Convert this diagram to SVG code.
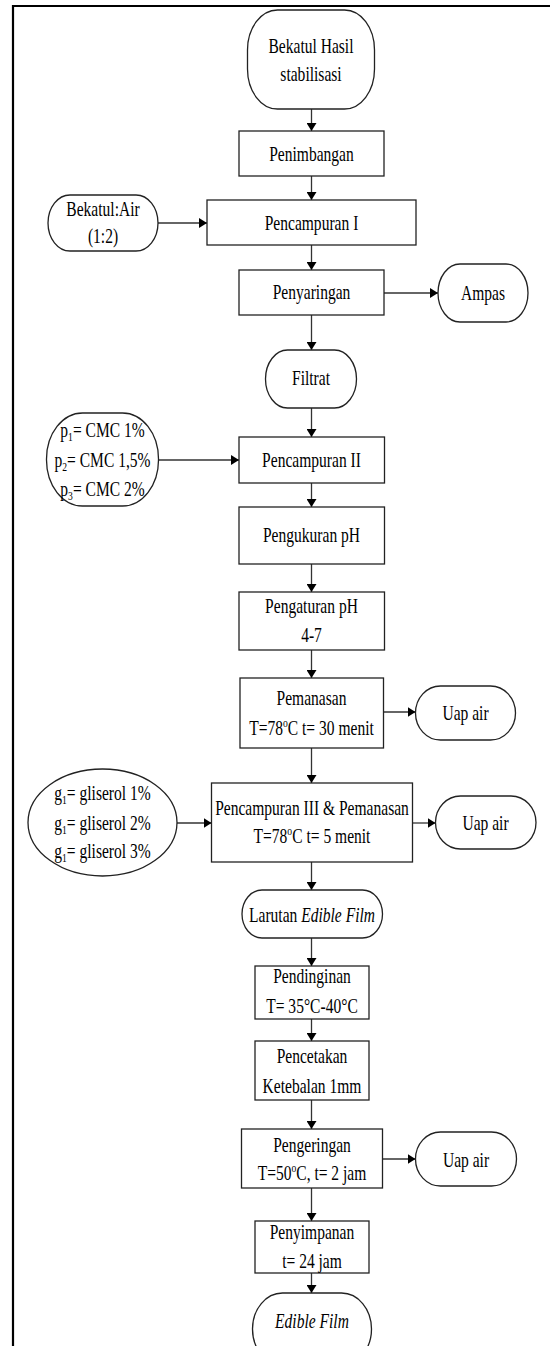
<svg xmlns="http://www.w3.org/2000/svg" width="550" height="1346" viewBox="0 0 550 1346">
<defs>
<marker id="ah" markerWidth="8" markerHeight="10" refX="8" refY="5" orient="auto" markerUnits="userSpaceOnUse">
<path d="M0,0 L8,5 L0,10 Z" fill="#000"/>
</marker>
<style>
.box{fill:#fff;stroke:#222;stroke-width:1.3}
.con{stroke:#333;stroke-width:1.3;fill:none}
.t{font-family:"Liberation Serif","Times New Roman",serif;font-size:21px;fill:#000;text-anchor:middle}
.i{font-style:italic}
.frame{stroke:#000;stroke-width:2.2;fill:none}
</style>
</defs>
<rect width="550" height="1346" fill="#fff"/>
<g id="frame">
<line class="frame" x1="12" y1="6" x2="550" y2="6"/>
<line class="frame" x1="13" y1="5" x2="13" y2="1346"/>
</g>
<g id="connectors">
<line class="con" x1="311.5" y1="109" x2="311.5" y2="131" marker-end="url(#ah)"/>
<line class="con" x1="311.5" y1="176" x2="311.5" y2="200" marker-end="url(#ah)"/>
<line class="con" x1="158" y1="223" x2="207" y2="223" marker-end="url(#ah)"/>
<line class="con" x1="311.5" y1="245" x2="311.5" y2="270" marker-end="url(#ah)"/>
<line class="con" x1="384" y1="293" x2="438" y2="293" marker-end="url(#ah)"/>
<line class="con" x1="311.5" y1="315" x2="311.5" y2="350" marker-end="url(#ah)"/>
<line class="con" x1="311.5" y1="408" x2="311.5" y2="437" marker-end="url(#ah)"/>
<line class="con" x1="158.5" y1="460" x2="239" y2="460" marker-end="url(#ah)"/>
<line class="con" x1="311.5" y1="483" x2="311.5" y2="507" marker-end="url(#ah)"/>
<line class="con" x1="311.5" y1="564" x2="311.5" y2="592" marker-end="url(#ah)"/>
<line class="con" x1="311.5" y1="650" x2="311.5" y2="678" marker-end="url(#ah)"/>
<line class="con" x1="383.5" y1="712" x2="415.5" y2="712" marker-end="url(#ah)"/>
<line class="con" x1="311.5" y1="748" x2="311.5" y2="783" marker-end="url(#ah)"/>
<line class="con" x1="177" y1="823" x2="211.5" y2="823" marker-end="url(#ah)"/>
<line class="con" x1="412.5" y1="823" x2="435.5" y2="823" marker-end="url(#ah)"/>
<line class="con" x1="311.5" y1="862" x2="311.5" y2="890" marker-end="url(#ah)"/>
<line class="con" x1="311.5" y1="938" x2="311.5" y2="966" marker-end="url(#ah)"/>
<line class="con" x1="311.5" y1="1019" x2="311.5" y2="1041" marker-end="url(#ah)"/>
<line class="con" x1="311.5" y1="1100" x2="311.5" y2="1129" marker-end="url(#ah)"/>
<line class="con" x1="382.5" y1="1159" x2="415.5" y2="1159" marker-end="url(#ah)"/>
<line class="con" x1="311.5" y1="1188" x2="311.5" y2="1221" marker-end="url(#ah)"/>
<line class="con" x1="311.5" y1="1273" x2="311.5" y2="1293" marker-end="url(#ah)"/>
</g>
<g id="n-start">
<rect class="box" x="247.5" y="10" width="127" height="99" rx="30" ry="40"/>
<text class="t" transform="translate(311 0) scale(0.74 1)"><tspan x="0" y="53">Bekatul Hasil</tspan><tspan x="0" y="81">stabilisasi</tspan></text>
</g>
<g id="n-penimbangan">
<rect class="box" x="239" y="131" width="145" height="45"/>
<text class="t" transform="translate(311.5 161) scale(0.74 1)">Penimbangan</text>
</g>
<g id="n-bekatulair">
<rect class="box" x="48" y="195" width="110" height="56" rx="22" ry="28"/>
<text class="t" transform="translate(103 0) scale(0.74 1)"><tspan x="0" y="216">Bekatul:Air</tspan><tspan x="0" y="243">(1:2)</tspan></text>
</g>
<g id="n-pencampuran1">
<rect class="box" x="207" y="200" width="209" height="45"/>
<text class="t" transform="translate(311.5 230) scale(0.74 1)">Pencampuran I</text>
</g>
<g id="n-penyaringan">
<rect class="box" x="239" y="270" width="145" height="45"/>
<text class="t" transform="translate(311.5 299) scale(0.74 1)">Penyaringan</text>
</g>
<g id="n-ampas">
<rect class="box" x="438" y="264" width="90" height="58" rx="22" ry="29"/>
<text class="t" transform="translate(483 300) scale(0.74 1)">Ampas</text>
</g>
<g id="n-filtrat">
<rect class="box" x="265.5" y="350" width="91" height="58" rx="22" ry="29"/>
<text class="t" transform="translate(311 385) scale(0.74 1)">Filtrat</text>
</g>
<g id="n-cmc">
<rect class="box" x="46.5" y="413" width="112" height="93" rx="36" ry="46"/>
<text class="t" transform="translate(102.5 0) scale(0.74 1)"><tspan x="0" y="437">p<tspan font-size="13" dy="4">1</tspan><tspan dy="-4">= CMC 1%</tspan></tspan><tspan x="0" y="467">p<tspan font-size="13" dy="4">2</tspan><tspan dy="-4">= CMC 1,5%</tspan></tspan><tspan x="0" y="496">p<tspan font-size="13" dy="4">3</tspan><tspan dy="-4">= CMC 2%</tspan></tspan></text>
</g>
<g id="n-pencampuran2">
<rect class="box" x="239" y="437" width="145.5" height="46"/>
<text class="t" transform="translate(311.5 467) scale(0.74 1)">Pencampuran II</text>
</g>
<g id="n-pengukuran">
<rect class="box" x="239" y="507" width="145.5" height="57"/>
<text class="t" transform="translate(311.5 542) scale(0.74 1)">Pengukuran pH</text>
</g>
<g id="n-pengaturan">
<rect class="box" x="239" y="592" width="145.5" height="58"/>
<text class="t" transform="translate(311.5 0) scale(0.74 1)"><tspan x="0" y="613">Pengaturan pH</tspan><tspan x="0" y="642">4-7</tspan></text>
</g>
<g id="n-pemanasan">
<rect class="box" x="240" y="678" width="143.5" height="70"/>
<text class="t" transform="translate(311.5 0) scale(0.74 1)"><tspan x="0" y="705">Pemanasan</tspan><tspan x="0" y="735">T=78<tspan font-size="13" dy="-8">o</tspan><tspan dy="8">C t= 30 menit</tspan></tspan></text>
</g>
<g id="n-uap1">
<rect class="box" x="415.5" y="686" width="100" height="54" rx="25" ry="27"/>
<text class="t" transform="translate(465.5 720) scale(0.74 1)">Uap air</text>
</g>
<g id="n-gliserol">
<ellipse class="box" cx="102.5" cy="822.5" rx="74.5" ry="53.5"/>
<text class="t" transform="translate(102.5 0) scale(0.74 1)"><tspan x="0" y="800">g<tspan font-size="13" dy="4">1</tspan><tspan dy="-4">= gliserol 1%</tspan></tspan><tspan x="0" y="830">g<tspan font-size="13" dy="4">1</tspan><tspan dy="-4">= gliserol 2%</tspan></tspan><tspan x="0" y="858">g<tspan font-size="13" dy="4">1</tspan><tspan dy="-4">= gliserol 3%</tspan></tspan></text>
</g>
<g id="n-pencampuran3">
<rect class="box" x="211.5" y="783" width="201" height="79"/>
<text class="t" transform="translate(312 0) scale(0.74 1)"><tspan x="0" y="815">Pencampuran III &amp; Pemanasan</tspan><tspan x="0" y="843">T=78<tspan font-size="13" dy="-8">o</tspan><tspan dy="8">C t= 5 menit</tspan></tspan></text>
</g>
<g id="n-uap2">
<rect class="box" x="435.5" y="796" width="100.5" height="53" rx="25" ry="26.5"/>
<text class="t" transform="translate(485.5 830) scale(0.74 1)">Uap air</text>
</g>
<g id="n-larutan">
<rect class="box" x="242" y="890" width="140.5" height="48" rx="20" ry="24"/>
<text class="t" transform="translate(312 922) scale(0.74 1)">Larutan <tspan class="i">Edible Film</tspan></text>
</g>
<g id="n-pendinginan">
<rect class="box" x="255" y="966" width="114" height="53"/>
<text class="t" transform="translate(312 0) scale(0.74 1)"><tspan x="0" y="983">Pendinginan</tspan><tspan x="0" y="1013">T= 35°C-40°C</tspan></text>
</g>
<g id="n-pencetakan">
<rect class="box" x="255" y="1041" width="114" height="59"/>
<text class="t" transform="translate(312 0) scale(0.74 1)"><tspan x="0" y="1063">Pencetakan</tspan><tspan x="0" y="1093">Ketebalan 1mm</tspan></text>
</g>
<g id="n-pengeringan">
<rect class="box" x="241.5" y="1129" width="141" height="59"/>
<text class="t" transform="translate(312 0) scale(0.74 1)"><tspan x="0" y="1152">Pengeringan</tspan><tspan x="0" y="1180">T=50<tspan font-size="13" dy="-8">o</tspan><tspan dy="8">C, t= 2 jam</tspan></tspan></text>
</g>
<g id="n-uap3">
<rect class="box" x="415.5" y="1132" width="101" height="54" rx="25" ry="27"/>
<text class="t" transform="translate(466 1167) scale(0.74 1)">Uap air</text>
</g>
<g id="n-penyimpanan">
<rect class="box" x="255" y="1221" width="114" height="52"/>
<text class="t" transform="translate(312 0) scale(0.74 1)"><tspan x="0" y="1239">Penyimpanan</tspan><tspan x="0" y="1268">t= 24 jam</tspan></text>
</g>
<g id="n-ediblefilm">
<rect class="box" x="252.5" y="1293" width="119" height="72" rx="30" ry="36"/>
<text class="t i" transform="translate(312 1328) scale(0.74 1)">Edible Film</text>
</g>
</svg>
